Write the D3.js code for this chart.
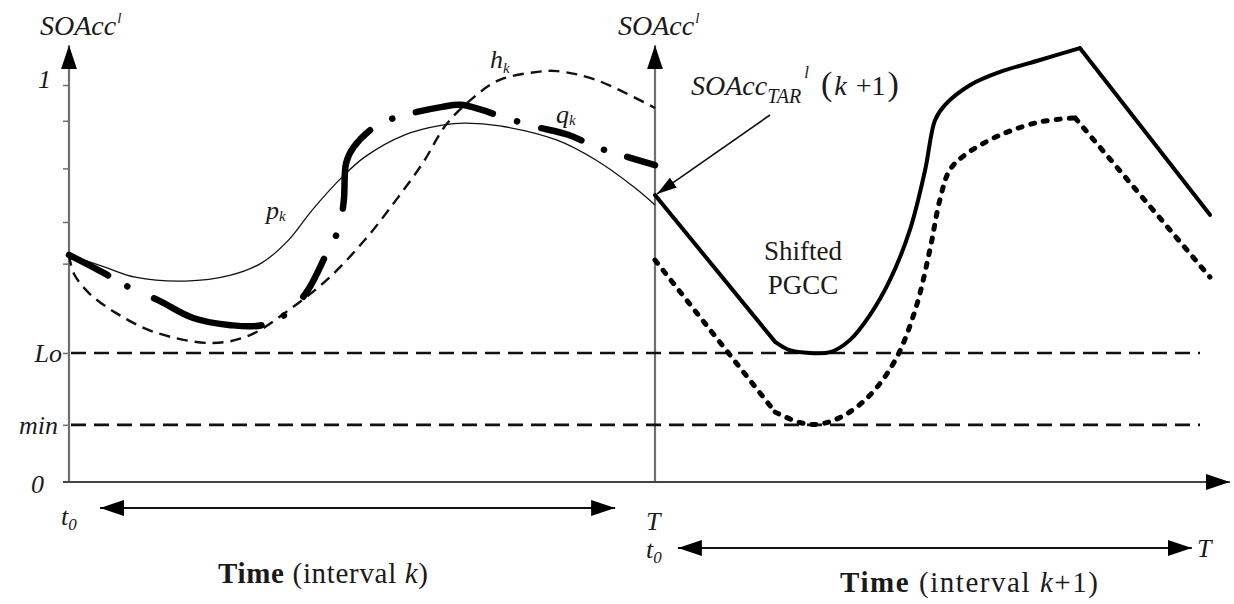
<!DOCTYPE html>
<html>
<head>
<meta charset="utf-8">
<script src="https://cdn.jsdelivr.net/npm/d3@7"></script>
<style>
  html, body { margin: 0; padding: 0; background: #fff; }
  svg text { font-family: "Liberation Serif", "DejaVu Serif", serif; fill: #1a1a1a; }
</style>
</head>
<body>
<svg id="chart" width="1234" height="604"></svg>
<script>
// ---- state-of-charge trajectories (time in intervals, SOAcc in [0,1]) ----
// interval k : t in [0, 1]
const pkTime = [0, 0.060, 0.113, 0.198, 0.276, 0.329, 0.375, 0.415, 0.466, 0.505, 0.572, 0.637, 0.676, 0.735, 0.833, 0.899, 0.964, 1.0];
const pkSoc  = [0.572, 0.542, 0.516, 0.506, 0.521, 0.552, 0.610, 0.685, 0.768, 0.819, 0.874, 0.899, 0.904, 0.897, 0.861, 0.811, 0.743, 0.698];

const hkTime = [0, 0.008, 0.034, 0.080, 0.145, 0.244, 0.309, 0.375, 0.440, 0.505, 0.558, 0.604, 0.643, 0.689, 0.735, 0.800, 0.833, 0.899, 1.0];
const hkSoc  = [0.572, 0.526, 0.476, 0.426, 0.378, 0.350, 0.370, 0.433, 0.509, 0.610, 0.710, 0.804, 0.899, 0.967, 1.013, 1.033, 1.035, 1.013, 0.942];

const qkTime = [0, 0.060, 0.102, 0.152, 0.212, 0.276, 0.329, 0.375, 0.408, 0.440, 0.461, 0.469, 0.473, 0.486, 0.526, 0.572, 0.637, 0.669, 0.742, 0.790, 0.853, 0.899, 0.942, 1.0];
const qkSoc  = [0.572, 0.526, 0.491, 0.458, 0.413, 0.395, 0.395, 0.428, 0.484, 0.577, 0.640, 0.710, 0.804, 0.844, 0.899, 0.924, 0.945, 0.950, 0.919, 0.897, 0.874, 0.844, 0.824, 0.798];

// interval k+1 : t in [1, ~1.95]
const shiftedTime = [1.0, 1.205, 1.230, 1.265, 1.299, 1.333, 1.367, 1.401, 1.435, 1.461, 1.478, 1.495, 1.538, 1.589, 1.657, 1.725, 1.947];
const shiftedSoc  = [0.723, 0.353, 0.332, 0.325, 0.327, 0.358, 0.421, 0.509, 0.635, 0.786, 0.912, 0.950, 1.000, 1.033, 1.063, 1.093, 0.673];

const pgccTime = [1.0, 1.205, 1.247, 1.282, 1.324, 1.367, 1.410, 1.444, 1.469, 1.486, 1.503, 1.529, 1.589, 1.657, 1.717, 1.947];
const pgccSoc  = [0.559, 0.176, 0.150, 0.146, 0.169, 0.219, 0.307, 0.433, 0.584, 0.710, 0.786, 0.824, 0.874, 0.907, 0.917, 0.516];

// horizontal limits and y-axis ticks
const levelNames  = ["Lo", "min"];
const levelValues = [0.325, 0.144];
const levelEnd    = 1.93;
const minorTicks  = [1, 0.91, 0.79, 0.655, 0.55];

// ---- layout ----
const svg = d3.select("#chart");
const x = d3.scaleLinear().domain([0, 1]).range([69, 655]);
const y = d3.scaleLinear().domain([0, 1]).range([482, 85]);

const defs = svg.append("defs");
function arrowMarker(id, len, half) {
  defs.append("marker")
    .attr("id", id)
    .attr("viewBox", `0 0 ${len} ${half * 2}`)
    .attr("refX", len).attr("refY", half)
    .attr("markerWidth", len).attr("markerHeight", half * 2)
    .attr("markerUnits", "userSpaceOnUse")
    .attr("orient", "auto-start-reverse")
    .append("path")
    .attr("d", `M0,0 L${len},${half} L0,${half * 2} Z`)
    .attr("fill", "#000");
}
arrowMarker("head", 24, 8);
arrowMarker("headSmall", 20, 6);

const axisColor = "#6f6f6f";

// y axes (interval k at t=0, interval k+1 at t=1)
[0, 1].forEach(t => {
  svg.append("line")
    .attr("x1", x(t)).attr("x2", x(t))
    .attr("y1", y(0)).attr("y2", y(1.10))
    .attr("stroke", axisColor).attr("stroke-width", 2.2)
    .attr("marker-end", "url(#head)");
});

// tick marks on the left axis
const yAxis = d3.axisLeft(y)
  .tickValues(minorTicks.concat(levelValues))
  .tickSize(6)
  .tickFormat(() => "");
const gy = svg.append("g").attr("transform", `translate(${x(0)},0)`).call(yAxis);
gy.select(".domain").remove();
gy.selectAll(".tick line").attr("stroke", axisColor).attr("stroke-width", 1.5);

// time axis
svg.append("line")
  .attr("x1", x(0) - 6).attr("x2", x(1.981))
  .attr("y1", y(0)).attr("y2", y(0))
  .attr("stroke", "#444").attr("stroke-width", 2)
  .attr("marker-end", "url(#head)");

// Lo and min limits
svg.selectAll("line.level")
  .data(levelValues)
  .join("line")
  .attr("class", "level")
  .attr("x1", x(0) + 2).attr("x2", x(levelEnd))
  .attr("y1", d => y(d)).attr("y2", d => y(d))
  .attr("stroke", "#111").attr("stroke-width", 2.6)
  .attr("stroke-dasharray", "15 8");

// ---- curves ----
const smooth = d3.line().x(d => x(d[0])).y(d => y(d[1])).curve(d3.curveCatmullRom.alpha(0.5));
const straight = d3.line().x(d => x(d[0])).y(d => y(d[1]));
const zip = (a, b) => a.map((v, i) => [v, b[i]]);

const pk = zip(pkTime, pkSoc);
const hk = zip(hkTime, hkSoc);
const qk = zip(qkTime, qkSoc);

svg.append("path").attr("d", smooth(pk))
  .attr("fill", "none").attr("stroke", "#111").attr("stroke-width", 1.3);

svg.append("path").attr("d", smooth(hk))
  .attr("fill", "none").attr("stroke", "#111").attr("stroke-width", 2.4)
  .attr("stroke-dasharray", "11 7");

// dash-dot trajectory with hand-drawn dash lengths, stretched over the path
const qPath = svg.append("path").attr("d", smooth(qk))
  .attr("fill", "none").attr("stroke", "#000").attr("stroke-width", 6.5)
  .attr("stroke-linecap", "round");
const qPattern = [45, 23, 0.1, 30, 116, 25, 0.1, 28, 44, 27, 0.1, 29, 89, 26, 0.1, 25, 81, 26, 0.1, 26, 43, 25, 0.1, 25, 30];
const qLen = qPath.node().getTotalLength();
const qSum = d3.sum(qPattern);
qPath.attr("stroke-dasharray", qPattern.map(v => v * qLen / qSum).join(" "));

// piecewise trajectories: straight ramps joined by a smooth middle part
function piecewise(times, socs, dash, width) {
  const pts = zip(times, socs);
  const n = pts.length;
  const d = straight(pts.slice(0, 2)) + smooth(pts.slice(1, n - 1)) + straight(pts.slice(n - 2));
  const p = svg.append("path").attr("d", d)
    .attr("fill", "none").attr("stroke", "#000").attr("stroke-width", width)
    .attr("stroke-linecap", "round").attr("stroke-linejoin", "round");
  if (dash) p.attr("stroke-dasharray", dash);
}
piecewise(pgccTime, pgccSoc, "4 9", 5);
piecewise(shiftedTime, shiftedSoc, null, 4);

// ---- annotations ----
function label(xp, yp, parts, opts = {}) {
  const t = svg.append("text")
    .attr("x", xp).attr("y", yp)
    .attr("font-size", opts.size || 26)
    .attr("text-anchor", opts.anchor || "start");
  if (opts.width) t.attr("textLength", opts.width).attr("lengthAdjust", "spacing");
  parts.forEach(p => {
    const s = t.append("tspan").text(p.text);
    if (p.italic) s.attr("font-style", "italic");
    if (p.bold) s.attr("font-weight", "bold");
    if (p.size) s.attr("font-size", p.size);
    if (p.dy) s.attr("dy", p.dy);
    if (p.dx) s.attr("dx", p.dx);
  });
  return t;
}

// axis titles
[[0, -29], [1, -37]].forEach(([t, off]) => {
  label(x(t) + off, 35, [
    { text: "SOAcc", italic: true },
    { text: "l", italic: true, size: 15, dy: -12, dx: 1 }
  ], { size: 28 });
});

// y-axis value labels
label(51, 88, [{ text: "1", italic: true }], { anchor: "end" });
levelNames.forEach((name, i) => {
  label(62 - (i ? 4 : 0), y(levelValues[i]) + 9, [{ text: name, italic: true }], { anchor: "end" });
});
label(44, 493, [{ text: "0", italic: true }], { anchor: "end" });

// interval boundaries
label(61, 525, [{ text: "t", italic: true }, { text: "0", italic: true, size: 17, dy: 5 }]);
label(646, 530, [{ text: "T", italic: true }]);
label(646, 558, [{ text: "t", italic: true }, { text: "0", italic: true, size: 17, dy: 5 }]);
label(1197, 557, [{ text: "T", italic: true }]);

// interval spans
svg.append("line")
  .attr("x1", x(0.053)).attr("x2", x(0.932)).attr("y1", 508).attr("y2", 508)
  .attr("stroke", "#111").attr("stroke-width", 2)
  .attr("marker-start", "url(#head)").attr("marker-end", "url(#head)");
svg.append("line")
  .attr("x1", x(1.039)).attr("x2", x(1.916)).attr("y1", 548).attr("y2", 548)
  .attr("stroke", "#111").attr("stroke-width", 2)
  .attr("marker-start", "url(#head)").attr("marker-end", "url(#head)");

label(218, 583, [
  { text: "Time", bold: true },
  { text: " (interval " },
  { text: "k", italic: true },
  { text: ")" }
], { size: 29, width: 210 });
label(840, 592, [
  { text: "Time", bold: true },
  { text: " (interval " },
  { text: "k", italic: true },
  { text: "+1)" }
], { size: 29, width: 258 });

// curve names
label(490, 68, [{ text: "h", italic: true }, { text: "k", italic: true, size: 15, dy: 5 }]);
label(556, 123, [{ text: "q", italic: true }, { text: "k", italic: true, size: 15, dy: 2 }]);
label(266, 219, [{ text: "p", italic: true }, { text: "k", italic: true, size: 15, dy: 2 }]);

// target SOAcc at the start of interval k+1
label(691, 95, [
  { text: "SOAcc", italic: true },
  { text: "TAR", italic: true, size: 20, dy: 8 },
  { text: "l", italic: true, size: 17, dy: -25, dx: 3 },
  { text: "(", dy: 17, dx: 12, size: 34 },
  { text: "k", italic: true, dx: 2 },
  { text: " +1", size: 28, dx: 2 },
  { text: ")", size: 34, dx: 2 }
], { size: 28 });
svg.append("line")
  .attr("x1", 770).attr("y1", 115)
  .attr("x2", x(1) + 2).attr("y2", y(shiftedSoc[0]) - 1)
  .attr("stroke", "#111").attr("stroke-width", 1.6)
  .attr("marker-end", "url(#headSmall)");

label(803, 260, [{ text: "Shifted" }], { size: 27, anchor: "middle" });
label(803, 294, [{ text: "PGCC" }], { size: 27, anchor: "middle" });
</script>
</body>
</html>
